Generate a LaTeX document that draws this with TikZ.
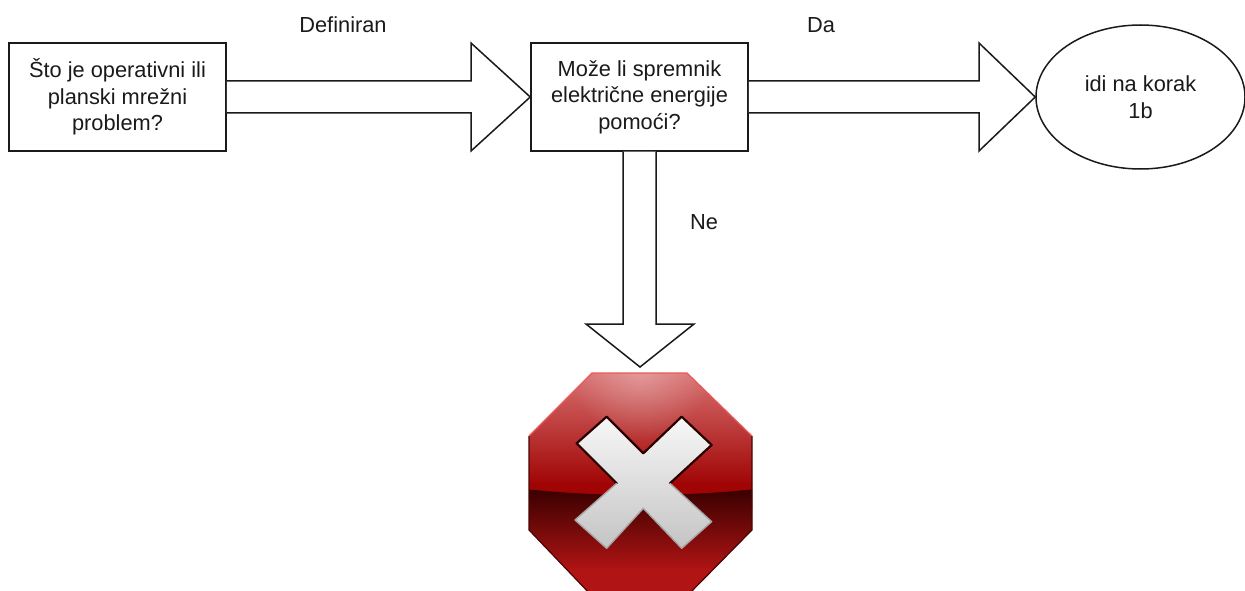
\documentclass[tikz,border=0pt]{standalone}
\usepackage{fontspec}
\setmainfont{Liberation Sans}
\usetikzlibrary{calc,shapes.geometric,fadings}
\definecolor{ink}{HTML}{1A1A1A}
\definecolor{signtop}{HTML}{D87070}
\definecolor{signmid}{HTML}{A00404}
\definecolor{signdark}{HTML}{3A0000}
\definecolor{signlow}{HTML}{B01414}
\definecolor{signrim}{HTML}{E85A5A}
\definecolor{signedge}{HTML}{4A0505}
\definecolor{crossedge}{HTML}{2A0000}
\definecolor{crosslow}{HTML}{C4C4C4}
\tikzfading[name=glow,inner color=transparent!70,outer color=transparent!100]
\tikzset{
  box/.style={draw=ink,line width=1.5pt,fill=white,minimum width=217pt,minimum height=108pt,inner sep=0pt,align=center,text=ink,font=\fontsize{21.8}{26.5}\selectfont},
  oval/.style={draw=ink,line width=1.5pt,fill=white,ellipse,minimum width=209pt,minimum height=144pt,inner sep=0pt,align=center,text=ink,font=\fontsize{21.8}{26.5}\selectfont},
  lab/.style={text=ink,font=\fontsize{21.8}{26.5}\selectfont,inner sep=0pt},
  hollow/.style={draw=ink,line width=1.5pt,fill=white,line join=miter},
}
\newcommand{\crosspath}{(290,230) -- (400,340) -- (515,230) -- (605,315) -- (480,430) -- (605,545) -- (515,625) -- (400,505) -- (290,625) -- (195,540) -- (320,430) -- (200,310) -- cycle}
\begin{document}
\begin{tikzpicture}[x=1pt,y=-1pt]
\useasboundingbox (0,0) rectangle (1245,591);
\clip (0,0) rectangle (1245,591);
\node[box] (q1) at (117.5,97) {Što je operativni ili\\planski mrežni\\problem?};
\node[box] (q2) at (639.5,97) {Može li spremnik\\električne energije\\pomoći?};
\node[oval] (go) at (1140.5,97) {idi na korak\\1b};
\coordinate (stop) at (640,367);
% hollow arrows
\draw[hollow] let \p1=(q1.east),\p2=(q2.west) in
  (\x1,81) -- (471,81) -- (471,43) -- (\p2) -- (471,151) -- (471,113) -- (\x1,113);
\draw[hollow] let \p1=(q2.east),\p2=(go.west) in
  (\x1,81) -- (979,81) -- (979,43) -- (\p2) -- (979,151) -- (979,113) -- (\x1,113);
\draw[hollow] let \p1=(q2.south),\p2=(stop) in
  (623,\y1) -- (623,324) -- (586,324) -- (\p2) -- (694,324) -- (656,324) -- (656,\y1);
\node[lab] (l1) at (343,25) {Definiran};
\node[lab] (l2) at (821,25) {Da};
\node[lab] (l3) at (704,222) {Ne};
% stop sign
\begin{scope}
  \path[clip] (592,373) -- (687,373) -- (752,436) -- (752,530) -- (687,596) -- (592,596) -- (529,530) -- (529,436) -- cycle;
  \shade[top color=signtop,bottom color=signmid] (525,373) rectangle (756,485);
  \fill[signmid] (525,484) rectangle (756,510);
  \fill[white,path fading=glow] (640,372) circle (70);
  \shade[top color=signdark,bottom color=signlow] (525,489) .. controls (600,497) and (680,497) .. (756,489) -- (756,570) -- (525,570) -- cycle;
  \fill[signlow] (525,569) rectangle (756,596);
\end{scope}
\draw[line width=1.2pt,draw=signrim] (529,436) -- (592,373) -- (687,373) -- (752,436);
\draw[line width=1.2pt,draw=signedge] (529,436) -- (529,530) -- (592,596) (752,436) -- (752,530) -- (687,596);
\begin{scope}[shift={(510,340)},x=0.3333pt,y=-0.3333pt]
  \path[top color=white!97!black,bottom color=crosslow] \crosspath;
  \begin{scope}
    \clip (150,200) rectangle (650,430);
    \draw[crossedge,line width=2.2pt,line join=round] \crosspath;
  \end{scope}
  \begin{scope}
    \clip (150,430) rectangle (650,660);
    \draw[black!35,line width=1.4pt,line join=round] \crosspath;
  \end{scope}
\end{scope}
\end{tikzpicture}
\end{document}
